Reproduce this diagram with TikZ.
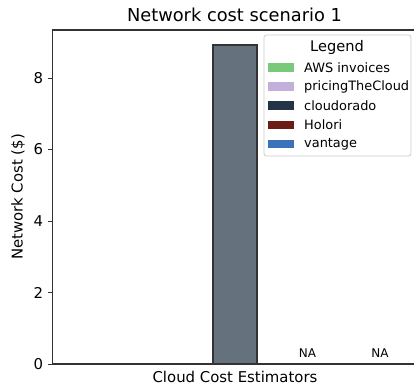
\documentclass[tikz,border=0pt]{standalone}
\usepackage{fontspec}
\setmainfont{DejaVu Sans}
\begin{document}
\begin{tikzpicture}[x=1pt,y=-1pt,
  spine/.style={draw=black!80,line width=1.1pt},
  tickmark/.style={draw=black!80,line width=0.9pt},
  ticklabel/.style={anchor=east,inner sep=0pt,font=\fontsize{14.9}{16}\selectfont},
  axislabel/.style={inner sep=0pt,font=\fontsize{14.9}{16}\selectfont},
  barbox/.style={draw=black!80,line width=1.3pt,fill=barfill},
  nalabel/.style={inner sep=0pt,font=\fontsize{12}{13}\selectfont},
  legpatch/.style={minimum width=26pt,minimum height=8.5pt,inner sep=0pt,outer sep=0pt},
  legtext/.style={anchor=west,inner sep=0pt,font=\fontsize{12.9}{14}\selectfont}]
\definecolor{barfill}{HTML}{66717E}
\definecolor{cAWS}{HTML}{79C97A}
\definecolor{cPTC}{HTML}{C2B0DA}
\definecolor{cCloudo}{HTML}{243447}
\definecolor{cHolori}{HTML}{6B1C15}
\definecolor{cVantage}{HTML}{3B72BA}
\useasboundingbox (0,0) rectangle (414,387);

% axes frame (right side runs past the page edge)
\coordinate (tl) at (52.5,30);
\coordinate (bl) at (52.5,364);
\coordinate (tr) at (420,30);
\coordinate (br) at (420,364);
\draw[spine] (tr) -- (tl) -- (bl) -- (br);

% y ticks: 35.75 units per dollar
\foreach \v in {0,2,4,6,8}{
  \coordinate (t\v) at (52.5,{364-35.75*\v});
  \draw[tickmark] (t\v) -- ++(-5,0) node[ticklabel,xshift=-4pt] {\v};
}

% single bar (cloudorado)
\draw[barbox] (213,364) rectangle (257,45);
\draw[spine] (bl) -- (br);

% missing estimates
\node[nalabel] (na1) at (307.5,353) {NA};
\node[nalabel] (na2) at (380,353) {NA};

% labels and title
\node[axislabel] (xl) at (235,377) {Cloud Cost Estimators};
\node[axislabel,rotate=90] (yl) at (18,197) {Network Cost (\$)};
\node[inner sep=0pt,font=\fontsize{17.8}{20}\selectfont] (title) at (234.5,15) {Network cost scenario 1};

% legend
\draw[draw=black!20,fill=white,fill opacity=0.85,rounded corners=2.5pt,line width=0.8pt] (264,35) rectangle (411,156);
\node[inner sep=0pt,font=\fontsize{14.6}{16}\selectfont] (legtitle) at (337,47) {Legend};
\foreach \c/\t/\y [count=\i] in {cAWS/AWS invoices/67.5,cPTC/pricingTheCloud/86.5,cCloudo/cloudorado/105.5,cHolori/Holori/125,cVantage/vantage/144}{
  \node[legpatch,fill=\c] (p\i) at (281,\y) {};
  \node[legtext] (l\i) at (304,\y) {\t};
}
\end{tikzpicture}
\end{document}
